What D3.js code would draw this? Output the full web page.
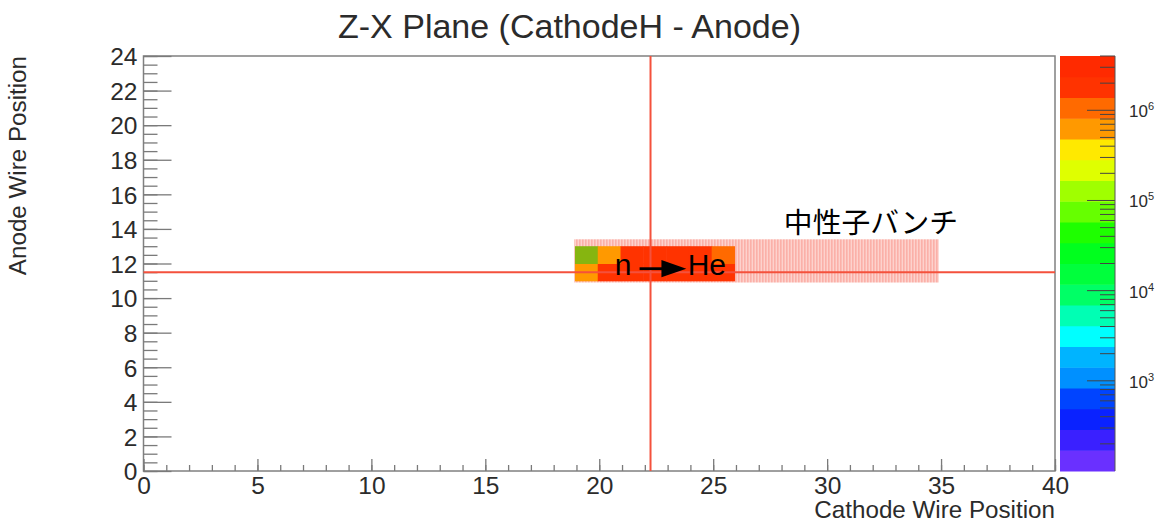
<!DOCTYPE html>
<html>
<head>
<meta charset="utf-8">
<script src="https://cdnjs.cloudflare.com/ajax/libs/d3/7.8.5/d3.min.js"></script>
<style>
body { margin: 0; background: #fff; }
text { font-family: "Liberation Sans", sans-serif; fill: #2b2b2b; }
.axis path, .axis line { stroke: #7a7a7a; stroke-width: 1.3; }
.axis text { font-size: 24.5px; font-family: "Liberation Sans", sans-serif; fill: #2b2b2b; }
</style>
</head>
<body>
<svg id="chart" width="1159" height="532"></svg>
<script>
var WIDTH = 1159;
var HEIGHT = 532;

// histogram bins: lower edges and counts per row
var binXs = [19, 20, 21, 22, 23, 24, 25];
var binYs = [11, 12];
var countsRow11 = [600000, 2000000, 2000000, 2000000, 2000000, 2000000, 2000000];
var countsRow12 = [70000, 600000, 2000000, 2000000, 2000000, 2000000, 1000000];

// neutron bunch box and the beam crosshair
var bunchX = [18.9, 34.9];
var bunchY = [10.9, 13.4];
var crossX = 22.25;
var crossY = 11.5;

// colour bar
var paletteColors = ["#6a30ff", "#3a20ff", "#0a22ff", "#0044ff", "#0090ff", "#00b4ff", "#00ffff", "#00ffb4",
	"#00ff66", "#00ff3c", "#00ff1e", "#1eff00", "#66ff00", "#a0ff00", "#dfff00", "#ffe900",
	"#ff9900", "#ff6a00", "#ff3300", "#ff2a00"];
var colorDomain = [100, 4000000];
var colorMajor = [1000, 10000, 100000, 1000000];
var colorMinor = [200, 300, 400, 500, 600, 700, 800, 900,
	2000, 3000, 4000, 5000, 6000, 7000, 8000, 9000,
	20000, 30000, 40000, 50000, 60000, 70000, 80000, 90000,
	200000, 300000, 400000, 500000, 600000, 700000, 800000, 900000,
	2000000, 3000000, 4000000];
var colorExponents = [3, 4, 5, 6];

// axis ticks
var xMajor = [0, 5, 10, 15, 20, 25, 30, 35, 40];
var xMinor = d3.range(0, 41);
var yMajor = [0, 2, 4, 6, 8, 10, 12, 14, 16, 18, 20, 22, 24];
var yMinor = d3.range(0, 24.1, 0.5);

var titleText = "Z-X Plane (CathodeH - Anode)";
var xTitle = "Cathode Wire Position";
var yTitle = "Anode Wire Position";
var bunchLabel = "中性子バンチ";

var x = d3.scaleLinear().domain([0, 40]).range([143.5, 1055]);
var y = d3.scaleLinear().domain([0, 24]).range([471, 56]);
var z = d3.scaleLog().domain(colorDomain).range([471, 56]);

var svg = d3.select("#chart");

// hatch for the bunch box
var defs = svg.append("defs");
var hatch = defs.append("pattern")
	.attr("id", "hatch")
	.attr("patternUnits", "userSpaceOnUse")
	.attr("width", 3)
	.attr("height", 3);
hatch.append("rect").attr("width", 3).attr("height", 3).attr("fill", "#fdd2cd");
hatch.append("rect").attr("width", 1.6).attr("height", 3).attr("fill", "#fbb0a8");

/**
 * colour of a bin, one of the 20 palette steps
 */
function binColor(v)
{
	var t = (Math.log10(v) - Math.log10(colorDomain[0])) / (Math.log10(colorDomain[1]) - Math.log10(colorDomain[0]));
	var i = Math.min(paletteColors.length - 1, Math.floor(t * paletteColors.length));
	return paletteColors[i];
}

svg.append("rect")
	.attr("x", x(bunchX[0]))
	.attr("y", y(bunchY[1]))
	.attr("width", x(bunchX[1]) - x(bunchX[0]))
	.attr("height", y(bunchY[0]) - y(bunchY[1]))
	.attr("fill", "url(#hatch)");

// the bins sit a pixel and a half left of the axis in the original
var rows = [countsRow11, countsRow12];
rows.forEach(function(row, r) {
	svg.append("g").selectAll("rect")
		.data(row)
		.enter().append("rect")
		.attr("x", function(d, i) { return x(binXs[i]) - 1.5; })
		.attr("y", y(binYs[r] + 1))
		.attr("width", x(1) - x(0) + 0.5)
		.attr("height", y(0) - y(1) + 0.5)
		.attr("fill", function(d) { return d < 100000 ? "#86b510" : binColor(d); });
});

// frame and axes
svg.append("rect")
	.attr("x", x(0))
	.attr("y", y(24))
	.attr("width", x(40) - x(0))
	.attr("height", y(0) - y(24))
	.attr("fill", "none")
	.attr("stroke", "#808080")
	.attr("stroke-width", 1.5);

svg.append("g").attr("class", "axis")
	.attr("transform", "translate(0,471)")
	.call(d3.axisTop(x).tickValues(xMinor).tickSize(6).tickFormat(""))
	.select(".domain").remove();
var xAxis = svg.append("g").attr("class", "axis")
	.attr("transform", "translate(0,471)")
	.call(d3.axisTop(x).tickValues(xMajor).tickSize(12).tickFormat(d3.format("d")));
xAxis.select(".domain").remove();
xAxis.selectAll("text").attr("y", 23).attr("dy", 0).style("text-anchor", "middle");

svg.append("g").attr("class", "axis")
	.attr("transform", "translate(143.5,0)")
	.call(d3.axisRight(y).tickValues(yMinor).tickSize(14).tickFormat(""))
	.select(".domain").remove();
var yAxis = svg.append("g").attr("class", "axis")
	.attr("transform", "translate(143.5,0)")
	.call(d3.axisRight(y).tickValues(yMajor).tickSize(28).tickFormat(d3.format("d")));
yAxis.select(".domain").remove();
yAxis.selectAll("text").attr("x", -6).attr("dy", "0.36em").style("text-anchor", "end");

// crosshair
svg.append("line")
	.attr("x1", x(crossX)).attr("x2", x(crossX))
	.attr("y1", y(24)).attr("y2", y(0))
	.attr("stroke", "#f4513c").attr("stroke-width", 2);
svg.append("line")
	.attr("x1", x(0)).attr("x2", x(40))
	.attr("y1", y(crossY)).attr("y2", y(crossY))
	.attr("stroke", "#f4513c").attr("stroke-width", 2);

// colour bar
svg.append("g").selectAll("rect")
	.data(paletteColors)
	.enter().append("rect")
	.attr("x", 1060)
	.attr("y", function(d, i) { return 471 - (i + 1) * 415 / paletteColors.length; })
	.attr("width", 55)
	.attr("height", 415 / paletteColors.length + 0.5)
	.attr("fill", function(d) { return d; });

var zAxis = svg.append("g").attr("transform", "translate(1115,0)");
zAxis.selectAll("line.minor")
	.data(colorMinor)
	.enter().append("line")
	.attr("class", "minor")
	.attr("x1", -15).attr("x2", 0)
	.attr("y1", function(d) { return z(d); }).attr("y2", function(d) { return z(d); })
	.attr("stroke", "#444");
zAxis.selectAll("line.major")
	.data(colorMajor)
	.enter().append("line")
	.attr("class", "major")
	.attr("x1", -28).attr("x2", 0)
	.attr("y1", function(d) { return z(d); }).attr("y2", function(d) { return z(d); })
	.attr("stroke", "#444");
zAxis.append("line")
	.attr("x1", 0).attr("x2", 0).attr("y1", 56).attr("y2", 471)
	.attr("stroke", "#555");

var zLabels = svg.append("g").selectAll("text")
	.data(colorMajor)
	.enter().append("text")
	.attr("x", 1129)
	.attr("y", function(d) { return z(d) + 7; })
	.style("font-size", "17px");
zLabels.append("tspan").text("10");
zLabels.append("tspan")
	.attr("dy", -7)
	.style("font-size", "11px")
	.text(function(d, i) { return colorExponents[i]; });

// titles
svg.append("text")
	.attr("x", 569.5).attr("y", 38)
	.attr("text-anchor", "middle")
	.style("font-size", "34px")
	.text(titleText);
svg.append("text")
	.attr("x", 1055).attr("y", 518)
	.attr("text-anchor", "end")
	.style("font-size", "24.2px")
	.text(xTitle);
svg.append("text")
	.attr("transform", "translate(26,56) rotate(-90)")
	.attr("text-anchor", "end")
	.style("font-size", "24.2px")
	.text(yTitle);

// annotations, placed in data coordinates
svg.append("text")
	.attr("x", x(20.68)).attr("y", y(11.35))
	.style("font-size", "30px").style("fill", "#000")
	.text("n");
svg.append("text")
	.attr("x", x(23.88)).attr("y", y(11.35))
	.style("font-size", "30px").style("fill", "#000")
	.text("He");
svg.append("line")
	.attr("x1", x(21.77)).attr("x2", x(22.8))
	.attr("y1", y(11.7)).attr("y2", y(11.7))
	.attr("stroke", "#000").attr("stroke-width", 2.8);
svg.append("path")
	.attr("d", d3.line()([[x(22.73), y(12.2)], [x(23.82), y(11.7)], [x(22.73), y(11.2)]]) + "Z")
	.attr("fill", "#000");
svg.append("text")
	.attr("x", x(28.1)).attr("y", y(13.75))
	.style("font-size", "28.8px")
	.style("font-family", "'Noto Sans CJK JP'")
	.style("fill", "#000")
	.text(bunchLabel);
</script>
</body>
</html>
